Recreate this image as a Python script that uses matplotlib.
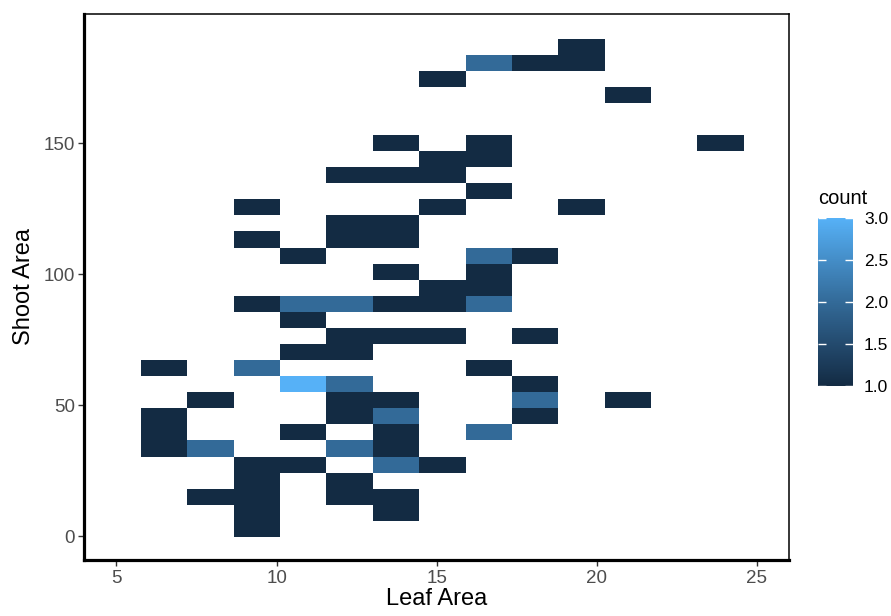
import numpy as np
import matplotlib
matplotlib.use('Agg')
from matplotlib import pyplot as plt
from matplotlib.colors import LinearSegmentedColormap, Normalize

plt.rcParams['font.family'] = ['Liberation Sans', 'DejaVu Sans']

# bin centres (leaf area, shoot area) and counts
leaf_area = [9.39,
             9.39, 13.73,
             7.94, 9.39, 12.28, 13.73,
             9.39, 12.28,
             9.39, 10.83, 13.73, 15.17,
             6.49, 7.94, 12.28, 13.73,
             6.49, 10.83, 13.73, 16.62,
             6.49, 12.28, 13.73, 18.07,
             7.94, 12.28, 13.73, 18.07, 20.96,
             10.83, 12.28, 18.07,
             6.49, 9.39, 16.62,
             10.83, 12.28,
             12.28, 13.73, 15.17, 18.07,
             10.83,
             9.39, 10.83, 12.28, 13.73, 15.17, 16.62,
             15.17, 16.62,
             13.73, 16.62,
             10.83, 16.62, 18.07,
             9.39, 12.28, 13.73,
             12.28, 13.73,
             9.39, 15.17, 19.51,
             16.62,
             12.28, 13.73, 15.17,
             15.17, 16.62,
             13.73, 16.62, 23.85,
             20.96,
             15.17,
             16.62, 18.07, 19.51,
             19.51]
shoot_area = [2.9,
              9.0, 9.0,
              15.1, 15.1, 15.1, 15.1,
              21.3, 21.3,
              27.4, 27.4, 27.4, 27.4,
              33.5, 33.5, 33.5, 33.5,
              39.6, 39.6, 39.6, 39.6,
              45.8, 45.8, 45.8, 45.8,
              51.9, 51.9, 51.9, 51.9, 51.9,
              58.0, 58.0, 58.0,
              64.2, 64.2, 64.2,
              70.3, 70.3,
              76.4, 76.4, 76.4, 76.4,
              82.6,
              88.7, 88.7, 88.7, 88.7, 88.7, 88.7,
              94.8, 94.8,
              100.9, 100.9,
              107.1, 107.1, 107.1,
              113.2, 113.2, 113.2,
              119.3, 119.3,
              125.5, 125.5, 125.5,
              131.6,
              137.7, 137.7, 137.7,
              143.9, 143.9,
              150.0, 150.0, 150.0,
              168.4,
              174.5,
              180.6, 180.6, 180.6,
              186.8]
count = [1,
         1, 1,
         1, 1, 1, 1,
         1, 1,
         1, 1, 2, 1,
         1, 2, 2, 1,
         1, 1, 1, 2,
         1, 1, 2, 1,
         1, 1, 1, 2, 1,
         3, 2, 1,
         1, 2, 1,
         1, 1,
         1, 1, 1, 1,
         1,
         1, 2, 2, 1, 1, 2,
         1, 1,
         1, 1,
         1, 2, 1,
         1, 1, 1,
         1, 1,
         1, 1, 1,
         1,
         1, 1, 1,
         1, 1,
         1, 1, 1,
         1,
         1,
         2, 1, 1,
         1]

xedges = 5.77 + 1.447 * np.arange(14)
yedges = -0.2 + 6.13 * np.arange(32)

grid, _, _ = np.histogram2d(leaf_area, shoot_area, bins=[xedges, yedges], weights=count)
grid = np.ma.masked_equal(grid.T, 0)

cmap = LinearSegmentedColormap.from_list('gg', ['#132B43', '#234A6E', '#336A98', '#448DC7', '#56B1F7'])
norm = Normalize(1, 3)

fig = plt.figure(figsize=(8.91, 6.16), dpi=100)
ax = fig.add_axes([0.0948, 0.0909, 0.7907, 0.8864])
ax.pcolormesh(xedges, yedges, grid, cmap=cmap, norm=norm)

ax.set_xlim(4, 26)
ax.set_ylim(-9.0, 199.2)
ax.set_xticks([5, 10, 15, 20, 25])
ax.set_yticks([0, 50, 100, 150])
ax.tick_params(length=4, width=1, color='#333333', labelcolor='#4D4D4D', labelsize=13.5, pad=3)
for s in ['left', 'bottom']:
    ax.spines[s].set_linewidth(2.3)
for s in ['top', 'right']:
    ax.spines[s].set_linewidth(1.1)
ax.set_xlabel('Leaf Area', fontsize=17, labelpad=1)
ax.set_ylabel('Shoot Area', fontsize=17, labelpad=6)

cax = fig.add_axes([0.918, 0.3734, 0.0393, 0.2727])
sm = plt.cm.ScalarMappable(norm=norm, cmap=cmap)
cb = fig.colorbar(sm, cax=cax, ticks=[1.0, 1.5, 2.0, 2.5, 3.0])
cb.outline.set_visible(False)
cax.set_yticklabels(['1.0', '1.5', '2.0', '2.5', '3.0'])
cax.tick_params(direction='in', left=True, right=True, length=6, width=1, color='white',
                labelsize=12.5, labelcolor='black', pad=8)
fig.text(0.918, 0.662, 'count', fontsize=14.5, ha='left', va='bottom')

plt.savefig('out.png', dpi=100)
